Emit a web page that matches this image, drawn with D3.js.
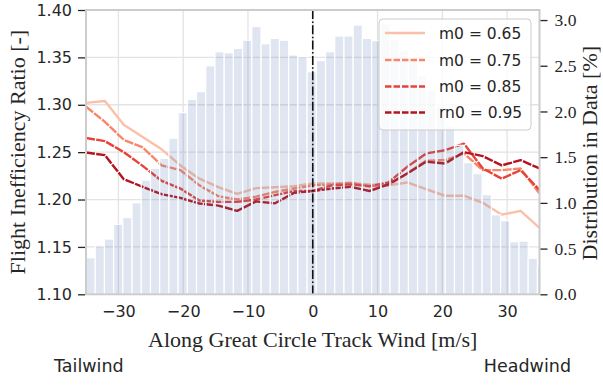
<!DOCTYPE html>
<html>
<head>
<meta charset="utf-8">
<script src="https://cdn.jsdelivr.net/npm/d3@7"></script>
<style>
  html, body { margin: 0; padding: 0; background: #ffffff; }
  svg { display: block; }
</style>
</head>
<body>
<svg id="chart" width="603" height="385"></svg>
<script>
// ---------------- data ----------------
const windPoints = [-35, -32.08, -29.17, -26.25, -23.33, -20.42, -17.5, -14.58, -11.67, -8.75, -5.83, -2.92, 0,
                    2.92, 5.83, 8.75, 11.67, 14.58, 17.5, 20.42, 23.33, 26.25, 29.17, 32.08, 35];
const seriesNames = ["m0 = 0.65", "m0 = 0.75", "m0 = 0.85", "rn0 = 0.95"];
const m065 = [1.302, 1.304, 1.279, 1.266, 1.253, 1.236, 1.222, 1.213, 1.206, 1.212, 1.213, 1.214, 1.217,
              1.217, 1.2176, 1.216, 1.215, 1.218, 1.211, 1.204, 1.204, 1.1965, 1.184, 1.188, 1.170];
const m075 = [1.298, 1.282, 1.263, 1.255, 1.236, 1.231, 1.215, 1.2035, 1.200, 1.203, 1.208, 1.2116, 1.215,
              1.216, 1.2176, 1.214, 1.215, 1.2275, 1.241, 1.2416, 1.2486, 1.231, 1.231, 1.2328, 1.2064];
const m085 = [1.265, 1.2616, 1.250, 1.2355, 1.2197, 1.2116, 1.199, 1.1975, 1.1975, 1.200, 1.2046, 1.209, 1.209,
              1.215, 1.216, 1.214, 1.218, 1.2345, 1.2486, 1.252, 1.259, 1.2328, 1.222, 1.231, 1.210];
const m095 = [1.2496, 1.2468, 1.2215, 1.2134, 1.2056, 1.2017, 1.1958, 1.1936, 1.188, 1.198, 1.196, 1.207, 1.209,
              1.2116, 1.2134, 1.209, 1.216, 1.2275, 1.240, 1.238, 1.250, 1.2458, 1.236, 1.2416, 1.2328];

// histogram of wind distribution [%]
const histStart = -35;
const histBinWidth = 1.422;
const histValues = [0.40, 0.53, 0.605, 0.766, 0.84, 1.00, 1.25, 1.378, 1.488, 1.707, 1.987, 2.133, 2.217, 2.50,
                    2.653, 2.643, 2.69, 2.78, 2.93, 2.74, 2.80, 2.78, 2.618, 2.60, 2.435, 2.556, 2.653, 2.826,
                    2.826, 2.946, 2.80, 2.775, 2.957, 2.79, 2.665, 2.57, 2.39, 2.23, 2.06, 1.84, 1.63, 1.44,
                    1.32, 1.09, 0.87, 0.805, 0.575, 0.583, 0.394, 0.31];

const xTicks = [-30, -20, -10, 0, 10, 20, 30];
const yTicks = [1.10, 1.15, 1.20, 1.25, 1.30, 1.35, 1.40];
const y2Ticks = [0.0, 0.5, 1.0, 1.5, 2.0, 2.5, 3.0];
const xDomain = [-35, 35];
const yDomain = [1.10, 1.40];
const y2Domain = [0, 3.11];

// ---------------- layout ----------------
const L = 86, R = 539.5, T = 10, B = 294.3;
const colors = ["#fcbfa7", "#f8876a", "#e8433a", "#b5141e"];
const plotDashes = [null, "9,1.3", "9,1.3", "9,1.3"];
const legendDashes = [null, "6.5,2", "6.5,2", "6.5,2"];
const sansFont = "DejaVu Sans, sans-serif";
const serifFont = "Liberation Serif, Times New Roman, serif";

const svg = d3.select("#chart");
const x = d3.scaleLinear().domain(xDomain).range([L, R]);
const y = d3.scaleLinear().domain(yDomain).range([B, T]);
const y2 = d3.scaleLinear().domain(y2Domain).range([B, T]);

svg.append("defs").append("clipPath").attr("id", "clip")
  .append("rect").attr("x", L).attr("y", T).attr("width", R - L).attr("height", B - T);

// grid
const grid = svg.append("g");
grid.selectAll("line.gx").data(xTicks).join("line")
  .attr("x1", d => x(d)).attr("x2", d => x(d)).attr("y1", T).attr("y2", B)
  .attr("stroke", "#e3e3e3").attr("stroke-width", 1.3);
grid.selectAll("line.gy").data(yTicks).join("line")
  .attr("x1", L).attr("x2", R).attr("y1", d => y(d)).attr("y2", d => y(d))
  .attr("stroke", "#e3e3e3").attr("stroke-width", 1.3);

// lines
const allSeries = [m065, m075, m085, m095];
const lineGen = d3.line().x((d, i) => x(windPoints[i])).y(d => y(d));
const linesG = svg.append("g").attr("clip-path", "url(#clip)");
allSeries.forEach((s, si) => {
  linesG.append("path").datum(s)
    .attr("d", lineGen)
    .attr("fill", "none")
    .attr("stroke", colors[si])
    .attr("stroke-width", 2.4)
    .attr("stroke-linejoin", "round")
    .attr("stroke-dasharray", plotDashes[si]);
});

// histogram bars (twin axis)
const barsG = svg.append("g").attr("clip-path", "url(#clip)");
barsG.selectAll("rect").data(histValues).join("rect")
  .attr("x", (d, i) => x(histStart + i * histBinWidth))
  .attr("width", (d, i) => x(histStart + (i + 1) * histBinWidth) - x(histStart + i * histBinWidth))
  .attr("y", d => y2(d))
  .attr("height", d => y2(0) - y2(d))
  .attr("fill", "#4c72b0").attr("fill-opacity", 0.18)
  .attr("stroke", "#ffffff").attr("stroke-width", 1.2);

// zero line
svg.append("line")
  .attr("x1", x(0)).attr("x2", x(0)).attr("y1", T).attr("y2", B)
  .attr("stroke", "#111").attr("stroke-width", 1.6)
  .attr("stroke-dasharray", "9,2.4,1.5,2.4");

// frame
svg.append("rect").attr("x", L).attr("y", T).attr("width", R - L).attr("height", B - T)
  .attr("fill", "none").attr("stroke", "#cccccc").attr("stroke-width", 2);

// left axis
const yAxis = d3.axisLeft(y).tickValues(yTicks).tickFormat(d3.format(".2f")).tickSize(7).tickPadding(6);
const gy = svg.append("g").attr("transform", `translate(${L - 1},0)`).call(yAxis);
gy.select(".domain").remove();
gy.selectAll(".tick line").attr("stroke", "#262626").attr("stroke-width", 1.3);
gy.selectAll(".tick text").attr("font-family", sansFont).attr("font-size", 16).attr("fill", "#262626");

// right axis
const y2Axis = d3.axisRight(y2).tickValues(y2Ticks).tickFormat(d3.format(".1f")).tickSize(7).tickPadding(7);
const gy2 = svg.append("g").attr("transform", `translate(${R + 1},0)`).call(y2Axis);
gy2.select(".domain").remove();
gy2.selectAll(".tick line").attr("stroke", "#262626").attr("stroke-width", 1.3);
gy2.selectAll(".tick text").attr("font-family", serifFont).attr("font-size", 17.5).attr("fill", "#262626");

// bottom axis (labels only)
const xAxis = d3.axisBottom(x).tickValues(xTicks).tickFormat(d => d < 0 ? "\u2212" + Math.abs(d) : d).tickSize(0).tickPadding(11);
const gx = svg.append("g").attr("transform", `translate(0,${B})`).call(xAxis);
gx.select(".domain").remove();
gx.selectAll(".tick text").attr("font-family", sansFont).attr("font-size", 16).attr("fill", "#262626");

// axis titles
svg.append("text").attr("x", (L + R) / 2).attr("y", 347)
  .attr("text-anchor", "middle").attr("font-family", serifFont).attr("font-size", 22).attr("fill", "#262626")
  .text("Along Great Circle Track Wind [m/s]");
svg.append("text").attr("transform", `translate(25,${(T + B) / 2}) rotate(-90)`)
  .attr("text-anchor", "middle").attr("font-family", serifFont).attr("font-size", 22).attr("fill", "#262626")
  .text("Flight Inefficiency Ratio [-]");
svg.append("text").attr("transform", `translate(597,${(T + B) / 2 + 1}) rotate(-90)`)
  .attr("text-anchor", "middle").attr("font-family", serifFont).attr("font-size", 22).attr("fill", "#262626")
  .text("Distribution in Data [%]");

svg.append("text").attr("x", 54).attr("y", 371.5).attr("font-family", sansFont).attr("font-size", 17.5).attr("fill", "#262626").text("Tailwind");
svg.append("text").attr("x", 571).attr("y", 371.5).attr("text-anchor", "end").attr("font-family", sansFont).attr("font-size", 17.5).attr("fill", "#262626").text("Headwind");

// legend
const lg = svg.append("g");
lg.append("rect").attr("x", 379).attr("y", 19).attr("width", 152).attr("height", 111).attr("rx", 4)
  .attr("fill", "#ffffff").attr("fill-opacity", 0.8).attr("stroke", "#cccccc").attr("stroke-width", 1);
const rowY = [33, 60, 86.5, 112.5];
seriesNames.forEach((name, i) => {
  lg.append("line").attr("x1", 385).attr("x2", 425).attr("y1", rowY[i]).attr("y2", rowY[i])
    .attr("stroke", colors[i]).attr("stroke-width", 2.4).attr("stroke-dasharray", legendDashes[i]);
  lg.append("text").attr("x", 439).attr("y", rowY[i]).attr("dy", "0.36em")
    .attr("font-family", sansFont).attr("font-size", 15.5).attr("fill", "#262626").text(name);
});
</script>
</body>
</html>
